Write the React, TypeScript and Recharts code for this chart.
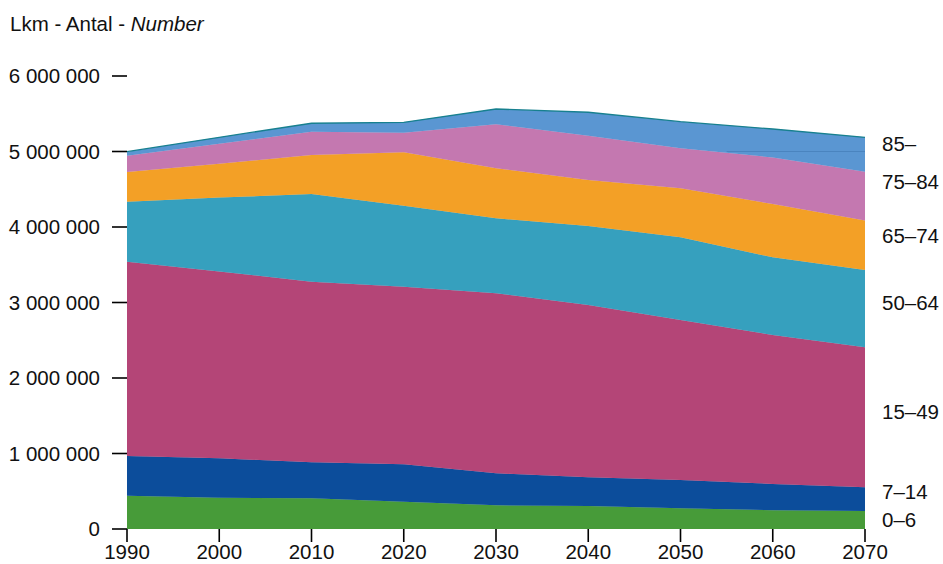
import React from "react";
import { AreaChart, Area, XAxis, YAxis, ReferenceDot, ReferenceLine } from "recharts";

const years = [1990, 2000, 2010, 2020, 2030, 2040, 2050, 2060, 2070];
const age0_6 = [440000, 415000, 407000, 362000, 314000, 305000, 274000, 248000, 238000];
const age7_14 = [527000, 521000, 476000, 495000, 424000, 380000, 375000, 348000, 314000];
const age15_49 = [2573000, 2474000, 2393000, 2352000, 2384000, 2282000, 2119000, 1974000, 1855000];
const age50_64 = [795000, 980000, 1161000, 1073000, 993000, 1046000, 1096000, 1029000, 1023000];
const age65_74 = [395000, 447000, 517000, 707000, 662000, 610000, 649000, 706000, 656000];
const age75_84 = [214000, 266000, 308000, 260000, 583000, 587000, 529000, 616000, 646000];
const age85 = [53000, 85000, 112000, 138000, 203000, 310000, 353000, 377000, 456000];

const seriesKeys = ["a0", "a7", "a15", "a50", "a65", "a75", "a85"];
const seriesNames = ["0–6", "7–14", "15–49", "50–64", "65–74", "75–84", "85–"];
const seriesValues = [age0_6, age7_14, age15_49, age50_64, age65_74, age75_84, age85];
const seriesColors = ["#479b39", "#0c4d9b", "#b44577", "#36a0be", "#f3a026", "#c478b0", "#5a96d2"];
const labelDy = [0.5, -7, -5, -5, -9, -13.5, -10.5];

const xTicks = [1990, 2000, 2010, 2020, 2030, 2040, 2050, 2060, 2070];
const yTicks = [0, 1000000, 2000000, 3000000, 4000000, 5000000, 6000000];

const data = years.map((year, i) => {
  const row: Record<string, number> = { year };
  seriesKeys.forEach((k, s) => {
    row[k] = seriesValues[s][i];
  });
  return row;
});

const last = years.length - 1;
const labelMids = seriesValues.map((vals, s) => {
  let below = 0;
  for (let j = 0; j < s; j++) below += seriesValues[j][last];
  return below + vals[last] / 2;
});

const FONT = "'Liberation Sans', Arial, Helvetica, sans-serif";
const FS = 20.5;

const fmt = (v: number) => String(v).replace(/\B(?=(\d{3})+(?!\d))/g, " ");

const SideLabel = (props: any) => {
  const { viewBox, text, dy } = props;
  if (!viewBox) return null;
  return (
    <text
      x={viewBox.x + 18}
      y={viewBox.y + dy}
      dominantBaseline="central"
      fontSize={FS}
      fontFamily={FONT}
      fill="#111"
    >
      {text}
    </text>
  );
};

export default function App() {
  return (
    <div style={{ position: "absolute", left: 0, top: 0, width: 943, height: 564, background: "#fff" }}>
      <div
        style={{
          position: "absolute",
          left: 10,
          top: 14,
          fontSize: FS,
          lineHeight: "20px",
          fontFamily: FONT,
          color: "#111",
          whiteSpace: "nowrap",
        }}
      >
        Lkm - Antal - <i>Number</i>
      </div>
      <AreaChart
        width={943}
        height={564}
        data={data}
        margin={{ top: 76, right: 78, bottom: 0, left: 10 }}
      >
        <XAxis
          dataKey="year"
          type="number"
          domain={[1990, 2070]}
          ticks={xTicks}
          axisLine={false}
          tickLine={{ stroke: "#000", strokeWidth: 1.6 }}
          tickSize={13}
          tickMargin={2.5}
          height={35}
          tick={{ fontSize: FS, fontFamily: FONT, fill: "#111" }}
          interval={0}
        />
        <YAxis
          type="number"
          domain={[0, 6000000]}
          ticks={yTicks}
          width={117}
          axisLine={false}
          tickLine={{ stroke: "#000", strokeWidth: 1.6 }}
          tickSize={15}
          tickMargin={12}
          tickFormatter={fmt}
          tick={{ fontSize: FS, fontFamily: FONT, fill: "#111" }}
          interval={0}
        />
        {seriesKeys.map((k, s) => (
          <Area
            key={k}
            type="linear"
            dataKey={k}
            name={seriesNames[s]}
            stackId="1"
            fill={seriesColors[s]}
            fillOpacity={1}
            stroke={s === seriesKeys.length - 1 ? "#17808f" : seriesColors[s]}
            strokeWidth={s === seriesKeys.length - 1 ? 1.3 : 0.5}
            isAnimationActive={false}
            dot={false}
            activeDot={false}
          />
        ))}
        <ReferenceLine
          segment={[
            { x: 2055, y: 5000000 },
            { x: 2070, y: 5000000 },
          ]}
          stroke="#4a84bf"
          strokeWidth={1}
          ifOverflow="visible"
        />
        {seriesNames.map((name, s) => (
          <ReferenceDot
            key={name}
            x={2070}
            y={labelMids[s]}
            r={1}
            fill="none"
            stroke="none"
            ifOverflow="visible"
            label={<SideLabel text={name} dy={labelDy[s]} />}
          />
        ))}
      </AreaChart>
    </div>
  );
}
